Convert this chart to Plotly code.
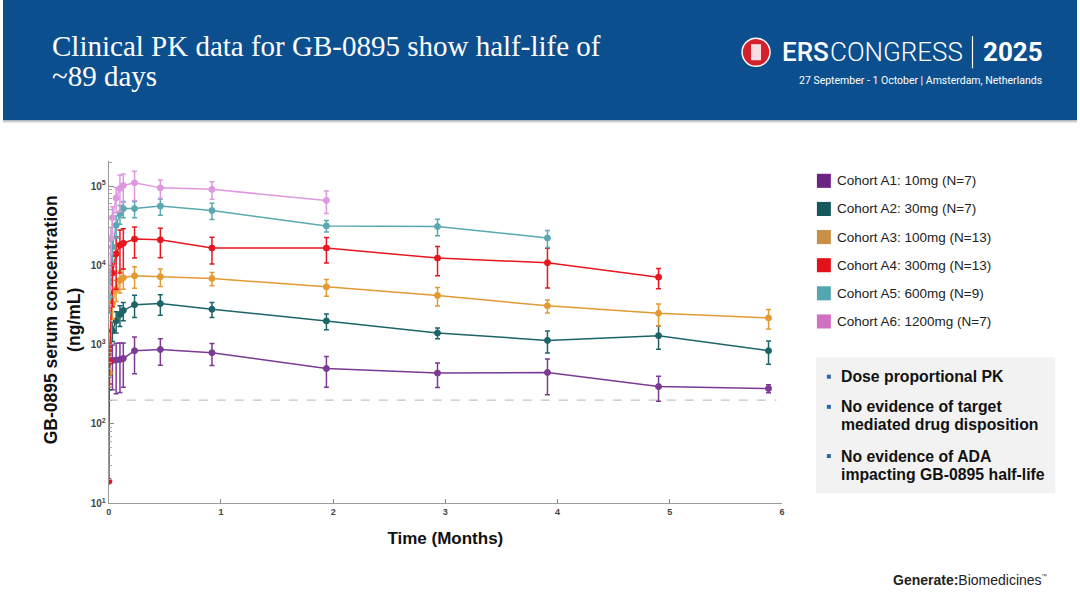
import plotly.graph_objects as go

W, H = 1080, 599
KX, KY = 1.003, 1.013  # small empirical correction of screen placement

# ---------------- data ----------------
cohort_names = [
    "Cohort A1: 10mg (N=7)",
    "Cohort A2: 30mg (N=7)",
    "Cohort A3: 100mg (N=13)",
    "Cohort A4: 300mg (N=13)",
    "Cohort A5: 600mg (N=9)",
    "Cohort A6: 1200mg (N=7)",
]
line_colors = ["#7b3a94", "#1d6468", "#e29a33", "#e8161e", "#5aa9b0", "#df98df"]
legend_colors = ["#6b2384", "#16585e", "#c98f46", "#e2121b", "#54a6b0", "#d070c0"]

t_a1 = [0.005, 0.033, 0.066, 0.1, 0.13, 0.23, 0.46, 0.92, 1.94, 2.93, 3.91, 4.90, 5.88]
a1_mean = [620, 630, 640, 650, 670, 840, 870, 793, 501, 438, 446, 296, 280]
a1_sd = [200, 360, 400, 400, 380, 410, 320, 245, 210, 150, 213, 103, 32]

t_a2 = [0.005, 0.033, 0.066, 0.1, 0.13, 0.23, 0.46, 0.92, 1.94, 2.93, 3.91, 4.90, 5.88]
a2_mean = [420, 1500, 2000, 2400, 2700, 3200, 3300, 2800, 1995, 1406, 1133, 1300, 839]
a2_sd = [150, 400, 600, 700, 700, 1000, 950, 600, 450, 220, 350, 425, 272]

t_a3 = [0.005, 0.033, 0.066, 0.1, 0.13, 0.23, 0.46, 0.92, 1.94, 2.93, 3.91, 4.90, 5.88]
a3_mean = [440, 3300, 5000, 6500, 7000, 7400, 7200, 6840, 5370, 4170, 3090, 2490, 2177]
a3_sd = [150, 1200, 1500, 2000, 2000, 2240, 1780, 1310, 1285, 1090, 575, 770, 600]

t_a4 = [0.002, 0.006, 0.033, 0.066, 0.1, 0.13, 0.23, 0.46, 0.92, 1.94, 2.93, 3.91, 4.90]
a4_mean = [19, 620, 8000, 14000, 18000, 19000, 21500, 21000, 16560, 16560, 12360, 10800, 7110]
a4_sd = [0, 300, 5000, 9000, 10000, 10000, 9100, 8500, 6150, 5850, 4950, 5600, 2050]

t_a5 = [0.005, 0.033, 0.066, 0.1, 0.13, 0.23, 0.46, 0.92, 1.94, 2.93, 3.91]
a5_mean = [4000, 17000, 32000, 45000, 52000, 52000, 56000, 49200, 31500, 30900, 22200]
a5_sd = [1500, 6000, 10000, 12000, 12000, 12000, 13000, 11400, 5200, 7200, 5400]

t_a6 = [0.003, 0.02, 0.033, 0.066, 0.1, 0.13, 0.23, 0.46, 0.92, 1.94]
a6_mean = [5200, 22000, 40000, 71000, 93000, 102000, 110000, 95000, 91000, 65900]
a6_sd = [2000, 8000, 15000, 25000, 45000, 40000, 44000, 24500, 22500, 20900]

lloq_t = [0, 5.95]
lloq_v = [200, 200]

x_ticks = [0, 1, 2, 3, 4, 5, 6]
y_ticks = [10, 100, 1000, 10000, 100000]
y_ticktext = ["10<sup>1</sup>", "10<sup>2</sup>", "10<sup>3</sup>", "10<sup>4</sup>", "10<sup>5</sup>"]
y_minor = [m * 10 ** e for e in range(1, 5) for m in range(2, 10)] + [200000]

title_lines = ["Clinical PK data for GB-0895 show half-life of", "~89 days"]

bullets = [
    ["Dose proportional PK"],
    ["No evidence of target", "mediated drug disposition"],
    ["No evidence of ADA", "impacting GB-0895 half-life"],
]

series = [
    (t_a1, a1_mean, a1_sd),
    (t_a2, a2_mean, a2_sd),
    (t_a3, a3_mean, a3_sd),
    (t_a4, a4_mean, a4_sd),
    (t_a5, a5_mean, a5_sd),
    (t_a6, a6_mean, a6_sd),
]


def px(x):
    return min(1.0, x * KX / W)


def py(y):
    return max(0.0, 1 - y * KY / H)


fig = go.Figure()

fig.add_trace(go.Scatter(
    x=lloq_t, y=lloq_v, mode="lines",
    line=dict(color="#c4c4c4", width=1.2, dash="dash"),
    showlegend=False, hoverinfo="skip",
))

for (t, m, s), name, col in zip(series, cohort_names, line_colors):
    fig.add_trace(go.Scatter(
        x=t, y=m, mode="lines+markers", name=name,
        line=dict(color=col, width=1.5),
        marker=dict(symbol="circle", size=6, color=col,
                    line=dict(color=col, width=1)),
        error_y=dict(type="data", array=s, visible=True,
                     color=col, thickness=1.5, width=2.5),
        showlegend=False,
    ))

x_dom = [px(106), px(781)]
y_dom = [py(501), py(160)]

fig.update_layout(
    width=W, height=H, autosize=False,
    margin=dict(l=0, r=0, t=0, b=0),
    paper_bgcolor="white", plot_bgcolor="white",
    showlegend=False,
    xaxis=dict(
        domain=x_dom, range=[0, 6], tickvals=x_ticks,
        ticks="inside", ticklen=4, tickcolor="#888",
        showline=True, linecolor="#9a9a9a", linewidth=1,
        showgrid=False, zeroline=False,
        tickfont=dict(family="Liberation Sans", size=9, color="#444", weight="bold"),
        title=dict(text="Time (Months)", standoff=16,
                   font=dict(family="Liberation Sans", size=17, color="#111", weight="bold")),
    ),
    yaxis=dict(
        domain=y_dom, type="log", range=[1, 5.32],
        tickvals=y_ticks, ticktext=y_ticktext,
        ticks="inside", ticklen=5, tickcolor="#888",
        minor=dict(tickmode="array", tickvals=y_minor, ticks="inside", ticklen=3,
                   tickcolor="#aaa", showgrid=False),
        showline=True, linecolor="#9a9a9a", linewidth=1,
        showgrid=False, zeroline=False,
        tickfont=dict(family="Liberation Sans", size=10, color="#444", weight="bold"),
    ),
)

shapes = []
annotations = []

# header band
shapes.append(dict(type="rect", xref="paper", yref="paper",
                   x0=0, x1=1, y0=py(120), y1=1, fillcolor="#0c4f8f",
                   line=dict(width=0), layer="below"))
shapes.append(dict(type="rect", xref="paper", yref="paper",
                   x0=0, x1=1, y0=py(122), y1=py(120), fillcolor="#d0d0d0",
                   line=dict(width=0), layer="below"))

for txt, yy in zip(title_lines, [46, 76]):
    annotations.append(dict(
        xref="paper", yref="paper", x=px(47), y=py(yy), xanchor="left", yanchor="middle",
        text=txt, showarrow=False,
        font=dict(family="Liberation Serif", size=29, color="white"),
    ))

# ERS logo
shapes.append(dict(type="circle", xref="paper", yref="paper",
                   x0=px(741), x1=px(769), y0=py(66), y1=py(38),
                   fillcolor="#d3202e", line=dict(color="white", width=1.5)))
shapes.append(dict(type="rect", xref="paper", yref="paper",
                   x0=px(750), x1=px(760), y0=py(60), y1=py(44),
                   fillcolor="rgba(255,255,255,0.85)", line=dict(width=0)))
annotations.append(dict(
    xref="paper", yref="paper", x=px(779), y=py(52), xanchor="left", yanchor="middle",
    text="ERS", showarrow=False,
    font=dict(family="Roboto", size=26, color="white", weight=500),
))
annotations.append(dict(
    xref="paper", yref="paper", x=px(827), y=py(52), xanchor="left", yanchor="middle",
    text="CONGRESS", showarrow=False,
    font=dict(family="Roboto", size=26, color="white", weight=300),
))
shapes.append(dict(type="line", xref="paper", yref="paper",
                   x0=px(972), x1=px(972), y0=py(68), y1=py(36),
                   line=dict(color="white", width=1.2)))
annotations.append(dict(
    xref="paper", yref="paper", x=px(1045), y=py(52), xanchor="right", yanchor="middle",
    text="<b>2025</b>", showarrow=False,
    font=dict(family="Roboto", size=26, color="white"),
))
annotations.append(dict(
    xref="paper", yref="paper", x=px(1044), y=py(80), xanchor="right", yanchor="middle",
    text="27 September - 1 October | Amsterdam, Netherlands", showarrow=False,
    font=dict(family="Roboto", size=10.5, color="white"),
))

# y-axis title
annotations.append(dict(
    xref="paper", yref="paper", x=px(60), y=py(318), xanchor="center", yanchor="middle",
    text="GB-0895 serum concentration<br>(ng/mL)", showarrow=False, textangle=-90,
    font=dict(family="Liberation Sans", size=17.5, color="#111", weight="bold"),
))

# custom legend
leg_y = [180, 208, 236, 264, 292, 320]
for name, col, yy in zip(cohort_names, legend_colors, leg_y):
    shapes.append(dict(type="rect", xref="paper", yref="paper",
                       x0=px(816), x1=px(830), y0=py(yy + 7), y1=py(yy - 7),
                       fillcolor=col, line=dict(width=0)))
    annotations.append(dict(
        xref="paper", yref="paper", x=px(834), y=py(yy), xanchor="left", yanchor="middle",
        text=name, showarrow=False,
        font=dict(family="Liberation Sans", size=13.5, color="#222"),
    ))

# bullet box
shapes.append(dict(type="rect", xref="paper", yref="paper",
                   x0=px(815), x1=px(1055), y0=py(491), y1=py(356),
                   fillcolor="#f2f2f2", line=dict(width=0), layer="below"))
bullet_y = [375, 405, 454]
for lines, yy in zip(bullets, bullet_y):
    shapes.append(dict(type="rect", xref="paper", yref="paper",
                       x0=px(826), x1=px(830), y0=py(yy + 2), y1=py(yy - 2),
                       fillcolor="#2a67a8", line=dict(width=0)))
    for k, ln in enumerate(lines):
        annotations.append(dict(
            xref="paper", yref="paper", x=px(838), y=py(yy + 18 * k), xanchor="left", yanchor="middle",
            text=ln, showarrow=False, align="left",
            font=dict(family="Liberation Sans", size=15.8, color="#111", weight="bold"),
        ))

# footer logo
annotations.append(dict(
    xref="paper", yref="paper", x=px(890), y=py(577), xanchor="left", yanchor="middle",
    text="<b>Generate:</b>Biomedicines", showarrow=False,
    font=dict(family="Liberation Sans", size=14, color="#222"),
))
annotations.append(dict(
    xref="paper", yref="paper", x=px(1039), y=py(573), xanchor="left", yanchor="middle",
    text="™", showarrow=False,
    font=dict(family="Liberation Sans", size=6, color="#444"),
))

fig.update_layout(shapes=shapes, annotations=annotations)

fig.write_html(
    "out.html",
    config={"displayModeBar": False},
    post_script=(
        "document.documentElement.style.margin='0';"
        "document.documentElement.style.overflow='hidden';"
        "document.body.style.margin='0';"
        "document.body.style.padding='0';"
        "document.body.style.overflow='hidden';"
        "var gd=document.getElementById('{plot_id}');"
        "gd.style.position='fixed';gd.style.left='0px';gd.style.top='0px';"
    ),
)
